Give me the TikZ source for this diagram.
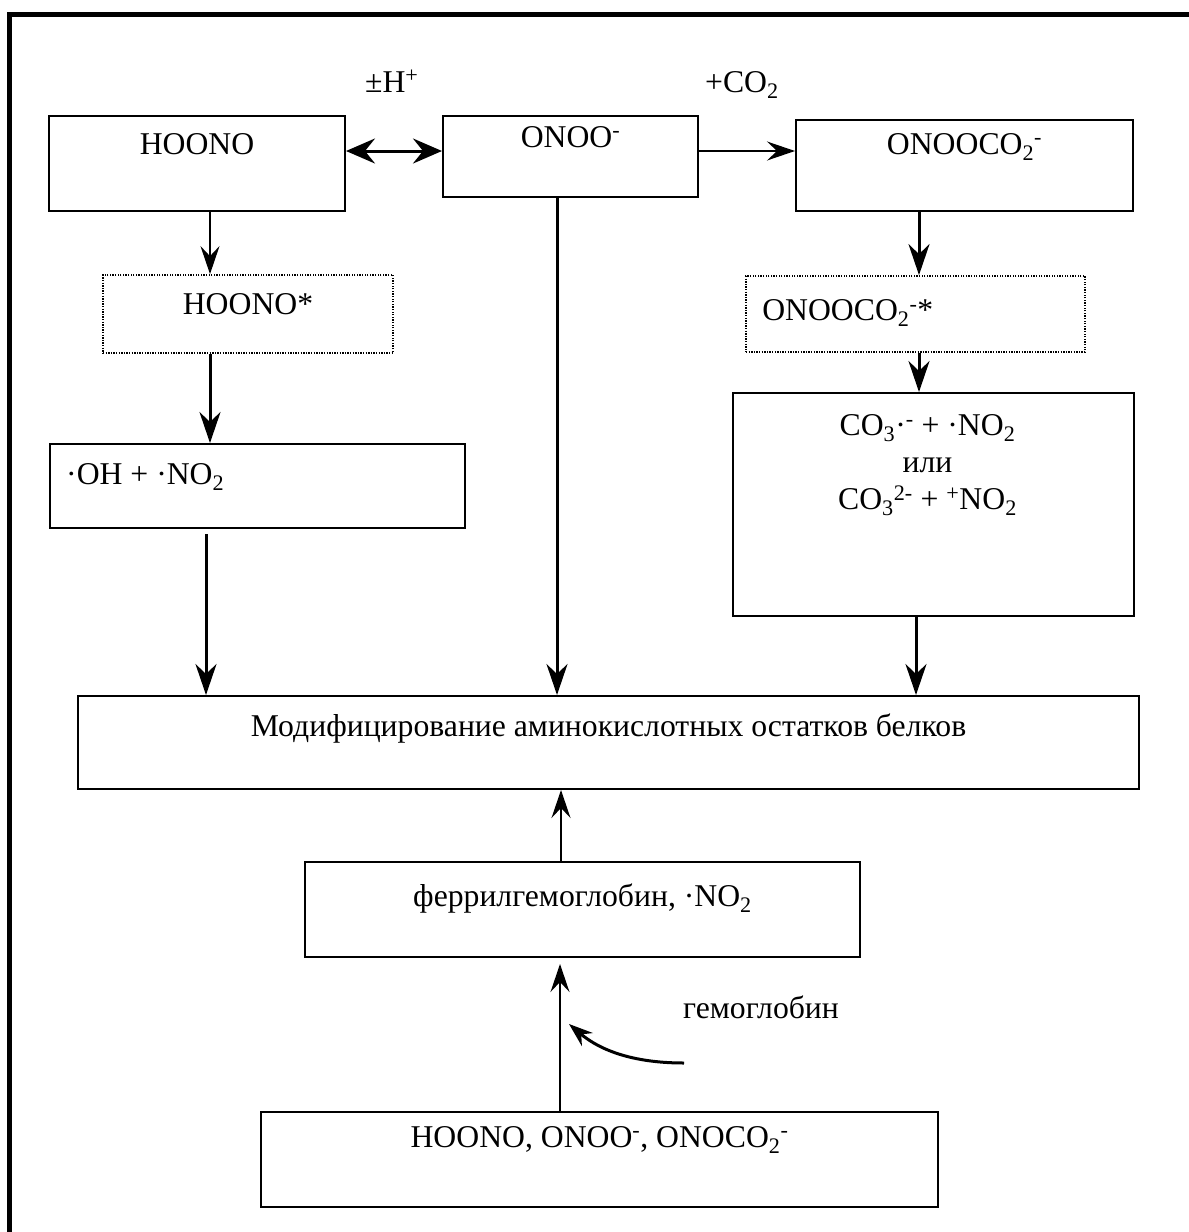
\documentclass[tikz,border=0pt]{standalone}
\usepackage{fontspec}
\setmainfont{Liberation Serif}
\usetikzlibrary{arrows.meta,fit}
\begin{document}
\begin{tikzpicture}[x=1pt,y=-1pt,
  font=\fontsize{31.7}{37}\selectfont,
  box/.style={draw, line width=2pt, inner sep=0pt},
  dotbox/.style={draw, line width=1.8pt, dash pattern=on 1.3pt off 1.3pt, inner sep=0pt},
  txt/.style={inner sep=0pt, anchor=base},
  txtw/.style={inner sep=0pt, anchor=base west},
  thk/.style={line width=3pt, -{Stealth[length=31pt,width=21pt,inset=10pt]}},
  thn/.style={line width=1.6pt, -{Stealth[length=28pt,width=19pt,inset=10pt]}},
  dbl/.style={line width=3pt, {Stealth[length=29pt,width=25pt,inset=10pt]}-{Stealth[length=29pt,width=25pt,inset=10pt]}},
  crv/.style={line width=3pt, -{Stealth[length=24pt,width=17pt,inset=8pt]}}
]
\useasboundingbox (0,0) rectangle (1189,1232);
% outer frame
\coordinate (fa) at (9.5,1240);
\coordinate (fb) at (9.5,14.5);
\coordinate (fc) at (1195,14.5);
\draw[line width=4.5pt] (fa) -- (fb) -- (fc);

% boxes
\node[box, fit={(49,116) (345,211)}, label={[txt, yshift=-39pt]north:HOONO}] (hoono) {};
\node[box, fit={(443,116) (698,197)}, label={[txt, yshift=-32pt]north:ONOO\textsuperscript{-}}] (onoo) {};
\node[box, fit={(796,120) (1133,211)}, label={[txt, yshift=-35pt]north:ONOOCO\textsubscript{2}\textsuperscript{-}}] (onooco) {};
\node[dotbox, fit={(103,275) (393,353)}, label={[txt, yshift=-40pt]north:HOONO*}] (hoonos) {};
\node[dotbox, fit={(746,276) (1085,352)}, label={[txtw, yshift=-45pt, xshift=17pt]north west:ONOOCO\textsubscript{2}\textsuperscript{-}*}] (onoocos) {};
\node[box, fit={(50,444) (465,528)}, label={[txtw, yshift=-41pt, xshift=17pt]north west:·OH + ·NO\textsubscript{2}}] (oh) {};
\node[box, fit={(733,393) (1134,616)}, label={[inner sep=0pt, anchor=north, align=center, yshift=-22pt, xshift=-6pt]north:{CO\textsubscript{3}·\textsuperscript{-} + ·NO\textsubscript{2}\\или\\CO\textsubscript{3}\textsuperscript{2-} + \textsuperscript{+}NO\textsubscript{2}}}] (co3) {};
\node[box, fit={(78,696) (1139,789)}, label={[txt, yshift=-41pt]north:Модифицирование аминокислотных остатков белков}] (mod) {};
\node[box, fit={(305,862) (860,957)}, label={[txt, yshift=-45pt]north:феррилгемоглобин, ·NO\textsubscript{2}}] (ferr) {};
\node[box, fit={(261,1112) (938,1207)}, label={[txt, yshift=-36pt]north:HOONO, ONOO\textsuperscript{-}, ONOCO\textsubscript{2}\textsuperscript{-}}] (src) {};

% free labels
\node[txtw] (lh) at (365,92) {±H\textsuperscript{+}};
\node[txtw] (lco) at (705,92) {+CO\textsubscript{2}};
\node[txtw] (lhb) at (683,1018) {гемоглобин};

% guide coordinates
\coordinate (ly) at (0,151);
\coordinate (c1) at (210,0);
\coordinate (c2) at (206,0);
\coordinate (c3) at (557,0);
\coordinate (c4) at (919,0);
\coordinate (c5) at (916,0);
\coordinate (c6) at (561,0);
\coordinate (c7) at (560,0);

% connectors
\draw[dbl] (hoono.east |- ly) -- (onoo.west |- ly);
\draw[thn] (onoo.east |- ly) -- (onooco.west |- ly);
\draw[thn] (hoono.south -| c1) -- (hoonos.north -| c1);
\draw[thk] (hoonos.south -| c1) -- (oh.north -| c1);
\draw[thk, shorten <=5pt] (oh.south -| c2) -- (mod.north -| c2);
\draw[thk] (onoo.south -| c3) -- (mod.north -| c3);
\draw[thk] (onooco.south -| c4) -- (onoocos.north -| c4);
\draw[thk] (onoocos.south -| c4) -- (co3.north -| c4);
\draw[thk] (co3.south -| c5) -- (mod.north -| c5);
\draw[thn] (ferr.north -| c6) -- (mod.south -| c6);
\draw[thn, shorten >=6pt] (src.north -| c7) -- (ferr.south -| c7);

% curved arrow
\coordinate (cs) at (684,1063);
\coordinate (ce) at (569,1024);
\draw[crv] (cs) .. controls (625,1063) and (595,1046) .. (ce);
\end{tikzpicture}
\end{document}
